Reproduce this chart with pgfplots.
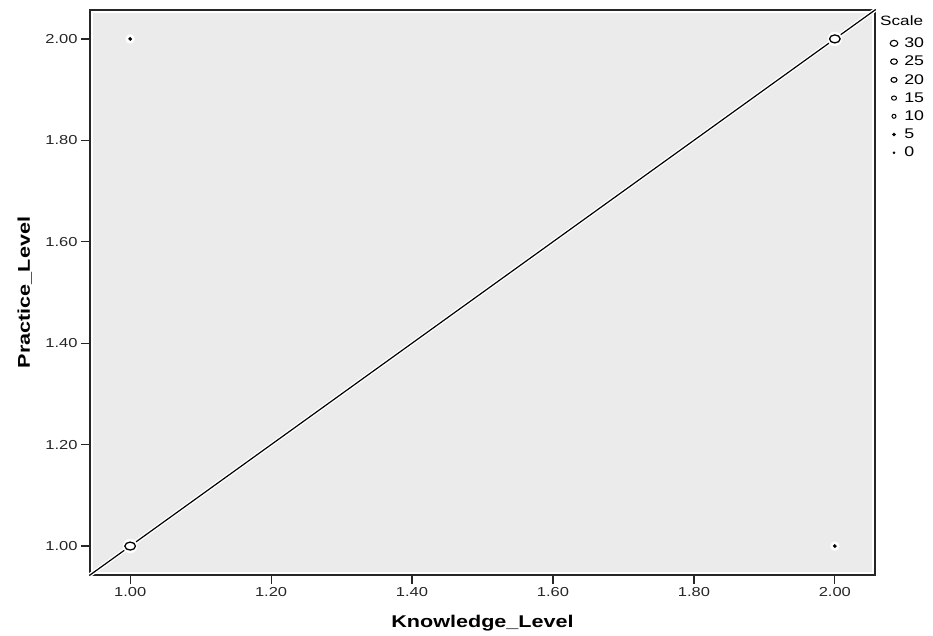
\documentclass[border=0pt]{standalone}
\usepackage{pgfplots}
\pgfplotsset{compat=1.18}
\usepackage{fontspec}
\setmainfont[FakeStretch=1.27]{Liberation Sans}
\definecolor{bg}{rgb}{0.922,0.922,0.922}
\definecolor{frame}{rgb}{0.15,0.15,0.15}
\newcommand{\legtxt}[1]{\hspace{5pt}#1}
\begin{document}
\begin{tikzpicture}[x=1pt,y=1pt]
\useasboundingbox (-90,-60) rectangle (843,575);
\begin{axis}[
  at={(0,0)}, anchor=south west,
  scale only axis, width=785pt, height=565pt,
  xmin=0.943, xmax=2.057, ymin=0.943, ymax=2.057,
  xtick={1,1.2,1.4,1.6,1.8,2},
  ytick={1,1.2,1.4,1.6,1.8,2},
  /pgf/number format/.cd, fixed, fixed zerofill, precision=2, assume math mode=true,
  /pgfplots/.cd,
  tick align=outside, tick pos=left, major tick length=9pt,
  tick style={frame, line width=1.2pt},
  axis line style={frame, line width=1.3pt},
  axis background/.style={fill=bg, draw=white, line width=6pt},
  ticklabel style={font=\fontsize{13}{14}\selectfont, text=black!85},
  xlabel={Knowledge\_Level},
  ylabel={Practice\_Level},
  label style={font=\fontsize{17}{20}\selectfont\bfseries},
  xlabel style={at={(axis description cs:0.5,-0.085)}, anchor=center},
  ylabel style={at={(axis description cs:-0.083,0.5)}, anchor=center},
  legend style={at={(axis description cs:1,1)}, anchor=north west,
    xshift=12pt, yshift=-24pt, draw=none, fill=none,
    font=\fontsize{14}{14}\selectfont, row sep=4pt,
    nodes={inner sep=1.5pt}},
  legend cell align=left,
  clip=false,
]
% reference line with white halo
\addplot[forget plot, white, line width=4pt] coordinates {(0.943,0.943) (2.057,2.057)};
% point halos
\addplot[forget plot, only marks, mark=*, mark size=7pt, mark options={white, fill=white}] coordinates {(1,1) (2,2)};
\addplot[forget plot, only marks, mark=*, mark size=4.5pt, mark options={white, fill=white}] coordinates {(1,2) (2,1)};
% black line
\addplot[forget plot, black, line width=1.2pt] coordinates {(0.943,0.943) (2.057,2.057)};
% points
\addplot[forget plot, only marks, mark=o, mark size=5.3pt, mark options={black, line width=1.3pt, yscale=0.75}] coordinates {(1,1) (2,2)};
\addplot[forget plot, only marks, mark=*, mark size=1.7pt, mark options={black, fill=black}] coordinates {(1,2) (2,1)};
% legend images
\addlegendimage{only marks, mark=o, mark size=3.8pt, mark options={black, line width=1.1pt, yscale=0.8}}
\addlegendentry{\legtxt{30}}
\addlegendimage{only marks, mark=o, mark size=3.4pt, mark options={black, line width=1.1pt, yscale=0.8}}
\addlegendentry{\legtxt{25}}
\addlegendimage{only marks, mark=o, mark size=3.0pt, mark options={black, line width=1.1pt, yscale=0.8}}
\addlegendentry{\legtxt{20}}
\addlegendimage{only marks, mark=o, mark size=2.5pt, mark options={black, line width=1pt, yscale=0.85}}
\addlegendentry{\legtxt{15}}
\addlegendimage{only marks, mark=o, mark size=2.0pt, mark options={black, line width=1pt}}
\addlegendentry{\legtxt{10}}
\addlegendimage{only marks, mark=*, mark size=1.6pt, mark options={black, fill=black}}
\addlegendentry{\legtxt{5}}
\addlegendimage{only marks, mark=*, mark size=1.1pt, mark options={black, fill=black}}
\addlegendentry{\legtxt{0}}
\node[anchor=west, font=\fontsize{13.5}{14}\selectfont, inner sep=0pt] at ([xshift=5pt, yshift=-11pt]rel axis cs:1,1) {Scale};
\end{axis}
\end{tikzpicture}
\end{document}
